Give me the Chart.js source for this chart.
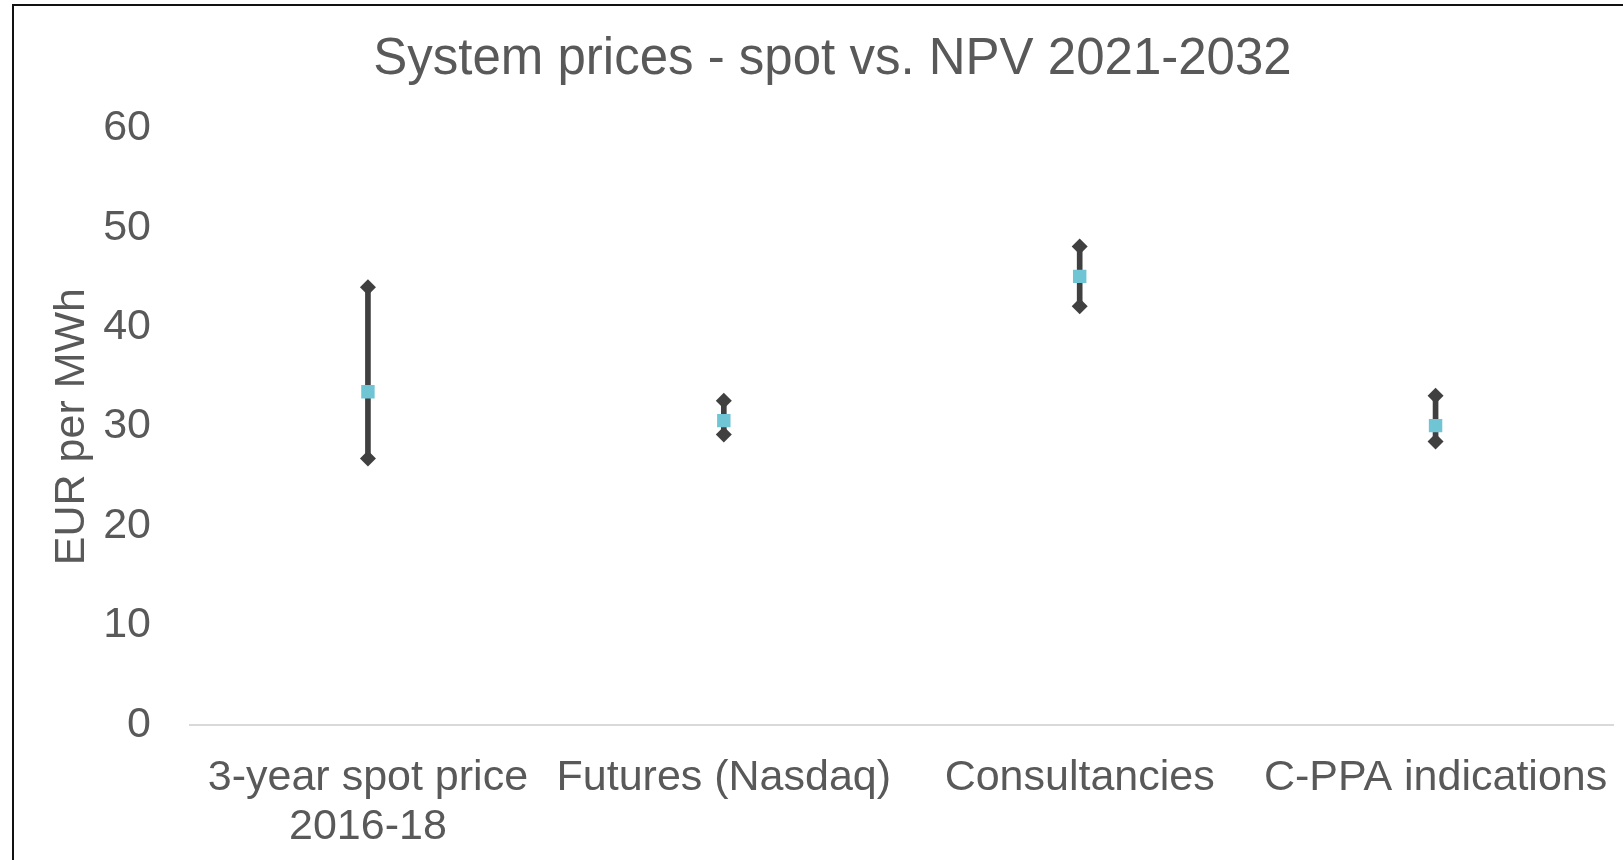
<!DOCTYPE html>
<html>
<head>
<meta charset="utf-8">
<script src="https://cdn.jsdelivr.net/npm/chart.js@4"></script>
<style>
  html, body { margin: 0; padding: 0; background: #fff; overflow: hidden; }
  #wrap { position: relative; width: 1623px; height: 860px; }
  #frame { position: absolute; left: 12px; top: 4px; width: 1700px; height: 900px; border: 2px solid #111; box-sizing: border-box; pointer-events: none; }
  canvas { position: absolute; left: 0; top: 0; }
</style>
</head>
<body>
<div id="wrap">
  <canvas id="chart" width="1623" height="860"></canvas>
  <div id="frame"></div>
</div>
<script>
// categories and values
const categories = [['3-year spot price', '2016-18'], 'Futures (Nasdaq)', 'Consultancies', 'C-PPA indications'];
const highValues = [44.0, 32.6, 48.1, 33.1];
const lowValues = [26.8, 29.2, 42.1, 28.5];
const midValues = [33.5, 30.6, 45.1, 30.1];
const yTicks = [0, 10, 20, 30, 40, 50, 60];

const textColor = '#595959';
const fontFamily = '"Liberation Sans", Arial, sans-serif';

const ranges = lowValues.map((v, i) => [v, highValues[i]]);

new Chart(document.getElementById('chart'), {
  type: 'bar',
  data: {
    labels: categories,
    datasets: [
      {
        label: 'range',
        data: ranges,
        backgroundColor: '#404040',
        barThickness: 5,
        borderSkipped: false,
        order: 3
      },
      {
        type: 'line',
        label: 'high',
        data: highValues,
        showLine: false,
        pointStyle: 'rectRot',
        pointRadius: 8,
        pointBackgroundColor: '#404040',
        pointBorderWidth: 0,
        order: 2
      },
      {
        type: 'line',
        label: 'low',
        data: lowValues,
        showLine: false,
        pointStyle: 'rectRot',
        pointRadius: 8,
        pointBackgroundColor: '#404040',
        pointBorderWidth: 0,
        order: 2
      },
      {
        type: 'line',
        label: 'mid',
        data: midValues,
        showLine: false,
        pointStyle: 'rect',
        pointRadius: 9.5,
        pointBackgroundColor: '#70C5D5',
        pointBorderWidth: 0,
        order: 1
      }
    ]
  },
  options: {
    responsive: false,
    animation: false,
    layout: { padding: { left: 43, right: 1, top: 5, bottom: 0 } },
    plugins: {
      legend: { display: false },
      tooltip: { enabled: false },
      title: {
        display: true,
        text: 'System prices - spot vs. NPV 2021-2032',
        color: textColor,
        font: { family: fontFamily, size: 51, weight: 'normal' },
        padding: { top: 24, bottom: 38 }
      }
    },
    scales: {
      x: {
        grid: { display: false },
        border: { display: true, color: '#D9D9D9', width: 2 },
        ticks: {
          color: textColor,
          font: { family: fontFamily, size: 43, lineHeight: 1.14 },
          padding: 21,
          maxRotation: 0,
          autoSkip: false
        },
        afterFit: (scale) => {
          scale.height = 135;
          scale.paddingLeft = 0;
          scale.paddingRight = 0;
        }
      },
      y: {
        min: 0,
        max: 60,
        afterBuildTicks: (scale) => {
          scale.ticks = yTicks.map(v => ({ value: v }));
        },
        grid: { display: false },
        border: { display: false },
        title: {
          display: true,
          text: 'EUR per MWh',
          color: textColor,
          font: { family: fontFamily, size: 43, weight: 'normal' },
          padding: { top: 3, bottom: 4 }
        },
        ticks: {
          color: textColor,
          font: { family: fontFamily, size: 43 },
          padding: 31
        },
        afterFit: (scale) => {
          scale.width = 147;
          scale.paddingTop = 0;
          scale.paddingBottom = 0;
        }
      }
    }
  }
});
</script>
</body>
</html>
